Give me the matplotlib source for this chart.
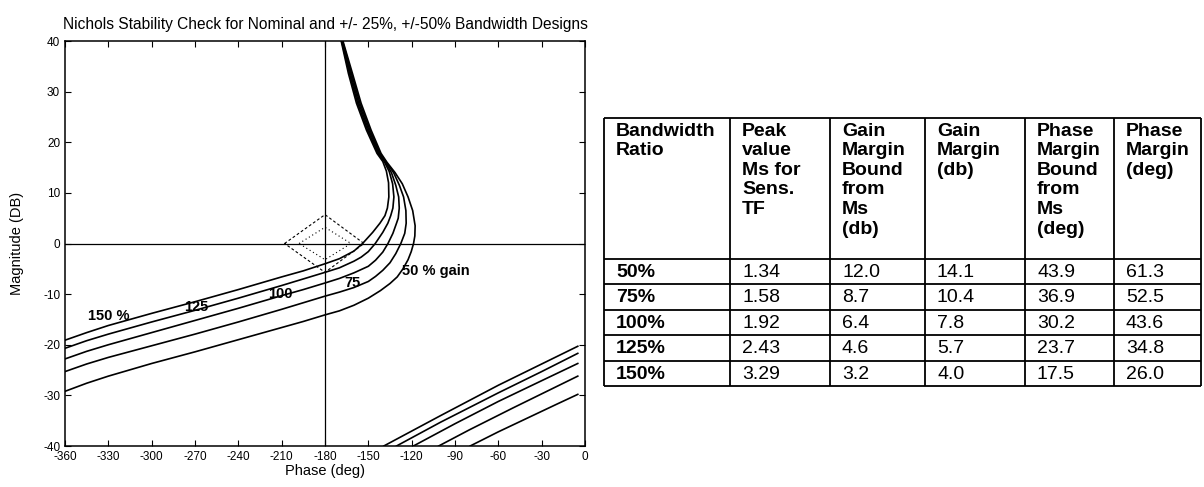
import matplotlib
matplotlib.use('Agg')
from matplotlib import pyplot as plt

plt.rcParams['font.family'] = ['Liberation Sans', 'DejaVu Sans']
plt.rcParams['axes.unicode_minus'] = False

# --- Nichols curves (phase deg, magnitude dB) ---
# main branch: from top of plot, round the nose, out to -360
ph_50 = [-167.6, -161.0, -155.0, -148.1, -141.2, -137.0, -131.5, -126.5, -122.5, -119.3, -117.6, -117.8,
         -118.7, -120.3, -122.5, -126.0, -130.0, -135.0, -141.6, -150.0, -160.0, -170.0, -180.0,
         -195.0, -210.0, -240.0, -270.0, -300.0, -330.0, -345.0, -360.0]
mag_50 = [40.0, 33.6, 27.7, 22.4, 17.8, 16.0, 14.0, 11.8, 9.2, 6.5, 3.5, 1.5,
          0.0, -1.6, -3.2, -5.0, -6.6, -7.9, -9.3, -10.8, -12.2, -13.3, -14.1,
          -15.4, -16.6, -19.0, -21.4, -23.7, -26.2, -27.6, -29.2]

ph_75 = [-167.9, -161.7, -155.8, -148.9, -141.9, -137.5, -132.5, -128.5, -125.6, -124.0, -123.8, -124.8,
         -127.5, -131.0, -135.0, -140.0, -145.0, -150.0, -160.0, -170.0, -180.0,
         -195.0, -210.0, -240.0, -270.0, -300.0, -330.0, -345.0, -360.0]
mag_75 = [40.0, 33.6, 27.7, 22.4, 17.8, 16.0, 14.0, 11.5, 9.2, 6.5, 4.0, 2.0,
          0.0, -2.0, -3.8, -5.3, -6.5, -7.5, -8.7, -9.6, -10.4,
          -11.7, -13.0, -15.5, -17.9, -20.2, -22.5, -23.8, -25.3]

ph_100 = [-168.2, -162.4, -156.6, -149.7, -142.6, -138.0, -134.0, -131.0, -129.0, -128.6, -129.3, -130.5, -133.0,
          -136.4, -140.0, -145.0, -150.0, -160.0, -170.0, -180.0,
          -195.0, -210.0, -240.0, -270.0, -300.0, -330.0, -345.0, -360.0]
mag_100 = [40.0, 33.6, 27.7, 22.4, 17.8, 16.0, 14.0, 11.5, 9.2, 7.0, 5.0, 4.0, 2.0,
           0.0, -1.7, -3.3, -4.5, -5.8, -6.9, -7.8,
           -9.1, -10.3, -12.8, -15.2, -17.6, -20.0, -21.3, -22.8]

ph_125 = [-168.5, -163.1, -157.4, -150.5, -143.3, -139.0, -135.5, -133.2, -132.3, -133.0, -134.5, -136.5, -140.0,
          -145.2, -150.0, -155.0, -160.0, -170.0, -180.0,
          -195.0, -210.0, -240.0, -270.0, -300.0, -330.0, -345.0, -360.0]
mag_125 = [40.0, 33.6, 27.7, 22.4, 17.8, 16.2, 14.2, 11.8, 9.2, 7.0, 5.5, 4.0, 2.2,
           0.0, -1.6, -2.7, -3.5, -4.8, -5.7,
           -7.0, -8.3, -10.8, -13.2, -15.5, -17.9, -19.2, -20.7]

ph_150 = [-168.8, -163.8, -158.2, -151.3, -144.0, -140.0, -137.5, -136.0, -135.8, -136.8, -138.5, -142.0, -147.0,
          -154.0, -160.0, -170.0, -180.0,
          -195.0, -210.0, -240.0, -270.0, -300.0, -330.0, -345.0, -360.0]
mag_150 = [40.0, 33.6, 27.7, 22.4, 17.8, 16.2, 14.3, 12.0, 9.2, 7.0, 5.5, 4.0, 2.2,
           0.0, -1.5, -3.0, -4.0,
           -5.4, -6.6, -9.1, -11.5, -13.8, -16.2, -17.6, -19.1]

# wrapped branch in the lower right corner
ph_50w = [-79.5, -60.0, -40.0, -20.0, -5.0]
mag_50w = [-40.0, -37.2, -34.5, -31.8, -29.8]
ph_75w = [-101.3, -80.0, -50.0, -25.0, -5.0]
mag_75w = [-40.0, -36.8, -32.5, -29.0, -26.2]
ph_100w = [-118.8, -90.0, -60.0, -30.0, -5.0]
mag_100w = [-40.0, -35.6, -31.2, -27.1, -23.7]
ph_125w = [-130.5, -100.0, -60.0, -30.0, -5.0]
mag_125w = [-40.0, -35.3, -29.5, -25.3, -21.7]
ph_150w = [-139.3, -100.0, -60.0, -30.0, -5.0]
mag_150w = [-40.0, -34.0, -28.0, -23.8, -20.3]

# margin diamonds around -180 / 0 dB
dia_out_ph = [-208, -180, -153, -180, -208]
dia_out_mag = [0.0, 5.7, 0.0, -5.7, 0.0]
dia_in_ph = [-198, -180, -162, -180, -198]
dia_in_mag = [0.0, 3.2, 0.0, -3.2, 0.0]

curve_labels = ['150 %', '125', '100', '75', '50 % gain']
label_ph = [-330, -269, -211, -161, -127]
label_mag = [-14.4, -12.5, -9.9, -7.8, -5.5]

# --- table ---
ratio = ['50%', '75%', '100%', '125%', '150%']
ms_peak = [1.34, 1.58, 1.92, 2.43, 3.29]
gm_bound = [12.0, 8.7, 6.4, 4.6, 3.2]
gm = [14.1, 10.4, 7.8, 5.7, 4.0]
pm_bound = [43.9, 36.9, 30.2, 23.7, 17.5]
pm = [61.3, 52.5, 43.6, 34.8, 26.0]
headers = ['Bandwidth\nRatio', 'Peak\nvalue\nMs for\nSens.\nTF', 'Gain\nMargin\nBound\nfrom\nMs\n(db)',
           'Gain\nMargin\n(db)', 'Phase\nMargin\nBound\nfrom\nMs\n(deg)', 'Phase\nMargin\n(deg)']

W, H = 1204, 487
fig = plt.figure(figsize=(W / 100, H / 100), dpi=100)
ax = fig.add_axes([65 / W, 1 - 446 / H, 520 / W, 405 / H])

for ph, mag in [(ph_50, mag_50), (ph_75, mag_75), (ph_100, mag_100), (ph_125, mag_125), (ph_150, mag_150),
                (ph_50w, mag_50w), (ph_75w, mag_75w), (ph_100w, mag_100w), (ph_125w, mag_125w),
                (ph_150w, mag_150w)]:
    ax.plot(ph, mag, color='k', lw=1.2)

ax.plot(dia_out_ph, dia_out_mag, color='k', lw=0.8, ls=(0, (2.5, 2)))
ax.plot(dia_in_ph, dia_in_mag, color='k', lw=0.8, ls=(0, (1, 2.5)))
ax.axvline(-180, color='k', lw=0.9)
ax.axhline(0, color='k', lw=0.9)

for txt, x, y in zip(curve_labels, label_ph, label_mag):
    ha = 'left' if txt.endswith('gain') else 'center'
    ax.text(x, y, txt, ha=ha, va='center', fontsize=10.5, fontweight='bold')

ax.set_xlim(-360, 0)
ax.set_ylim(-40, 40)
ax.set_xticks(range(-360, 1, 30))
ax.set_yticks(range(-40, 41, 10))
ax.tick_params(direction='in', top=True, right=True, length=4, labelsize=8.5, width=0.8)
for s in ax.spines.values():
    s.set_linewidth(1.1)
ax.set_xlabel('Phase (deg)', fontsize=10.5, labelpad=1)
ax.set_ylabel('Magnitude (DB)', fontsize=10.5, labelpad=14)
ax.set_title('Nichols Stability Check for Nominal and +/- 25%, +/-50% Bandwidth Designs', fontsize=11.2, pad=9)

# table drawn in pixel coordinates
tax = fig.add_axes([0, 0, 1, 1])
tax.set_xlim(0, W)
tax.set_ylim(H, 0)
tax.axis('off')
col_x = [604, 730, 830, 925, 1025, 1114, 1201]
row_y = [117.5, 258.5, 284, 309.5, 335, 360.5, 386]
tax.vlines(col_x, row_y[0], row_y[-1], color='k', lw=1.3)
tax.hlines(row_y, col_x[0], col_x[-1], color='k', lw=1.3)
for j, h in enumerate(headers):
    tax.text(col_x[j] + 12, row_y[0] + 5, h, ha='left', va='top', fontsize=14, fontweight='bold',
             linespacing=1.2)
for i in range(len(ratio)):
    cells = [ratio[i], f'{ms_peak[i]:.2f}', f'{gm_bound[i]:.1f}', f'{gm[i]:.1f}', f'{pm_bound[i]:.1f}', f'{pm[i]:.1f}']
    yc = (row_y[i + 1] + row_y[i + 2]) / 2 + 1
    for j, c in enumerate(cells):
        tax.text(col_x[j] + 12, yc, c, ha='left', va='center', fontsize=14,
                 fontweight='bold' if j == 0 else 'normal')

fig.savefig('out.png', dpi=100)
